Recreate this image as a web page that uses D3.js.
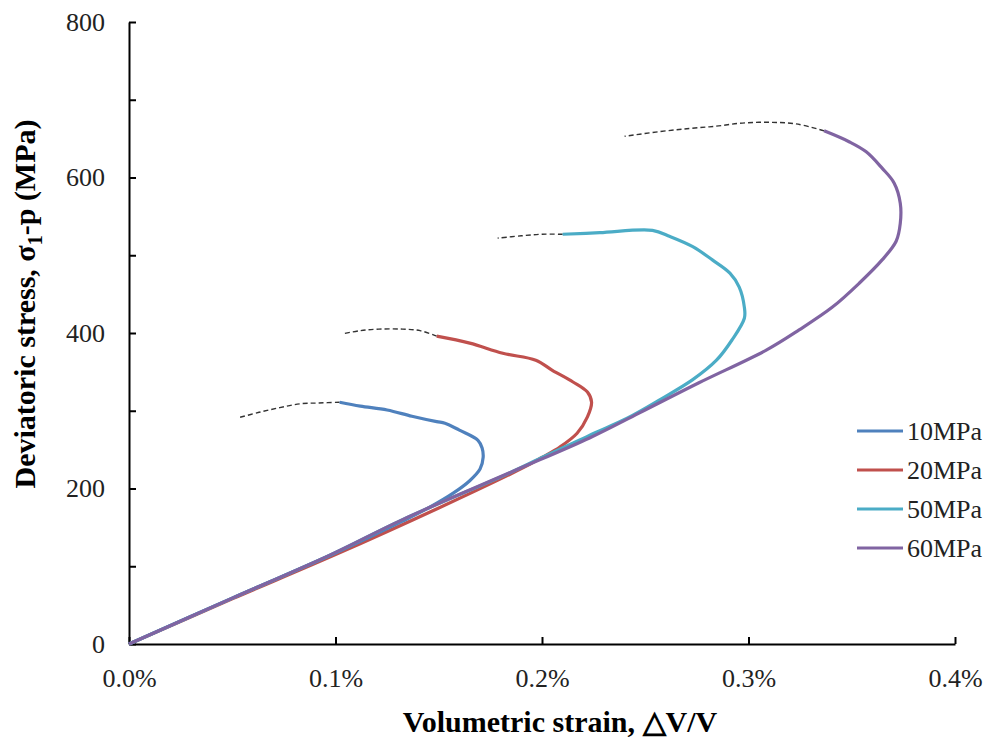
<!DOCTYPE html>
<html>
<head>
<meta charset="utf-8">
<script src="https://cdn.jsdelivr.net/npm/d3@7"></script>
<style>
  body { margin: 0; background: #fff; }
  text { font-family: "Liberation Serif", "Times New Roman", serif; }
</style>
</head>
<body>
<div id="chart"></div>
<script>
// strain in %, deviatoric stress in MPa
var series10 = [[0,0],[0.05,59],[0.1,117],[0.1325,158],[0.145,175],[0.157,194],[0.165,210],[0.1700,225],[0.1715,240],[0.171,252],[0.169,262],[0.160,275],[0.153,284],[0.149,286],[0.137,293],[0.125,301],[0.112,306],[0.102,311]];
var dash10 = [[0.102,311],[0.092,310],[0.083,309],[0.073,304],[0.063,298],[0.053,291]];

var series20 = [[0,0],[0.05,58],[0.1,115],[0.15,175],[0.185,219],[0.194,231],[0.2,240],[0.2085,253],[0.217,271],[0.222,292],[0.224,311],[0.222,324],[0.215,337],[0.205,352],[0.197,365],[0.181,374],[0.165,387],[0.149,396]];
var dash20 = [[0.149,396],[0.141,403],[0.1325,405],[0.121,405],[0.112,403],[0.1035,399]];

var series50 = [[0,0],[0.05,59],[0.097,114],[0.1325,160],[0.185,221],[0.2,240],[0.218,262],[0.226,272],[0.241,290],[0.257,314],[0.273,340],[0.2845,365],[0.292,391],[0.298,419],[0.298,433],[0.2955,459],[0.291,477],[0.2825,494],[0.273,511],[0.262,524],[0.2535,532],[0.228,529],[0.210,527]];
var dash50 = [[0.210,527],[0.2,527],[0.19,525],[0.1785,522]];

var series60 = [[0,0],[0.05,59],[0.097,114],[0.1325,160],[0.185,221],[0.223,265],[0.247,297],[0.276,336],[0.3086,378],[0.3245,404],[0.3405,433],[0.3536,464],[0.3647,494],[0.3715,518],[0.3735,541],[0.3735,567],[0.3705,593],[0.3647,612],[0.357,633],[0.3487,646],[0.3366,660]];
var dash60 = [[0.3366,660],[0.323,669],[0.310,671],[0.297,670],[0.2843,666],[0.2713,663],[0.2568,659],[0.240,653]];

var names = ["10MPa", "20MPa", "50MPa", "60MPa"];
var colors = ["#4F81BD", "#C0504D", "#4BACC6", "#8064A2"];
var xTicks = [0, 0.1, 0.2, 0.3, 0.4];
var yTicks = [0, 100, 200, 300, 400, 500, 600, 700, 800];
var yLabels = [0, 200, 400, 600, 800];

(function() {
var width = 992, height = 741;
var pLeft = 129, pRight = 955, pTop = 22, pBottom = 644;

var svg = d3.select("#chart").append("svg")
  .attr("width", width)
  .attr("height", height);

var x = d3.scaleLinear().domain([0, 0.4]).range([pLeft, pRight]);
var y = d3.scaleLinear().domain([0, 800]).range([pBottom, pTop]);

var line = d3.line()
  .x(function(d) { return x(d[0]); })
  .y(function(d) { return y(d[1]); })
  .curve(d3.curveCatmullRom.alpha(0.5));

// axes
var xAxis = svg.append("g")
  .attr("transform", "translate(0," + pBottom + ")")
  .call(d3.axisBottom(x).tickValues(xTicks).tickSizeInner(-7).tickSizeOuter(0).tickPadding(0)
    .tickFormat(function(d) { return d.toFixed(1) + "%"; }));
var yAxis = svg.append("g")
  .attr("transform", "translate(" + pLeft + ",0)")
  .call(d3.axisLeft(y).tickValues(yTicks).tickSizeInner(-7).tickSizeOuter(0).tickPadding(24)
    .tickFormat(function(d) { return yLabels.indexOf(d) >= 0 ? d : ""; }));

[xAxis, yAxis].forEach(function(a) {
  a.select(".domain").attr("stroke", "#000").attr("stroke-width", 2);
  a.selectAll(".tick line").attr("stroke", "#000").attr("stroke-width", 2);
  a.selectAll(".tick text").attr("fill", "#222").style("font-size", "26px")
    .style("font-family", "'Liberation Serif', serif");
});
xAxis.selectAll(".tick text").attr("y", 34).attr("dy", "0.35em");

// dashed extensions
[dash10, dash20, dash50, dash60].forEach(function(d) {
  svg.append("path")
    .datum(d)
    .attr("d", line)
    .attr("fill", "none")
    .attr("stroke", "#333")
    .attr("stroke-width", 1.4)
    .attr("stroke-dasharray", "5,3");
});

// curves, drawn so purple ends up on top
var all = [series10, series20, series50, series60];
[1, 0, 2, 3].forEach(function(i) {
  svg.append("path")
    .datum(all[i])
    .attr("d", line)
    .attr("fill", "none")
    .attr("stroke", colors[i])
    .attr("stroke-width", 3.2)
    .attr("stroke-linejoin", "round");
});

// legend
var legend = svg.append("g").attr("transform", "translate(857,431)");
names.forEach(function(n, i) {
  var g = legend.append("g").attr("transform", "translate(0," + (i * 39) + ")");
  g.append("line").attr("x1", 0).attr("x2", 46).attr("y1", 0).attr("y2", 0)
    .attr("stroke", colors[i]).attr("stroke-width", 3.2);
  g.append("text").attr("x", 50).attr("y", 0).attr("dy", "0.35em")
    .style("font-size", "26px").attr("fill", "#222").text(n);
});

// axis titles
svg.append("text")
  .attr("x", 560).attr("y", 732)
  .attr("text-anchor", "middle")
  .style("font-size", "30px").style("font-weight", "bold")
  .text("Volumetric strain, △V/V");

var yt = svg.append("text")
  .attr("transform", "translate(35,304) rotate(-90)")
  .attr("text-anchor", "middle")
  .style("font-size", "30px").style("font-weight", "bold");
yt.append("tspan").text("Deviatoric stress, σ");
yt.append("tspan").attr("dy", 7).style("font-size", "20px").text("1");
yt.append("tspan").attr("dy", -7).text("-p (MPa)");
})();
</script>
</body>
</html>
